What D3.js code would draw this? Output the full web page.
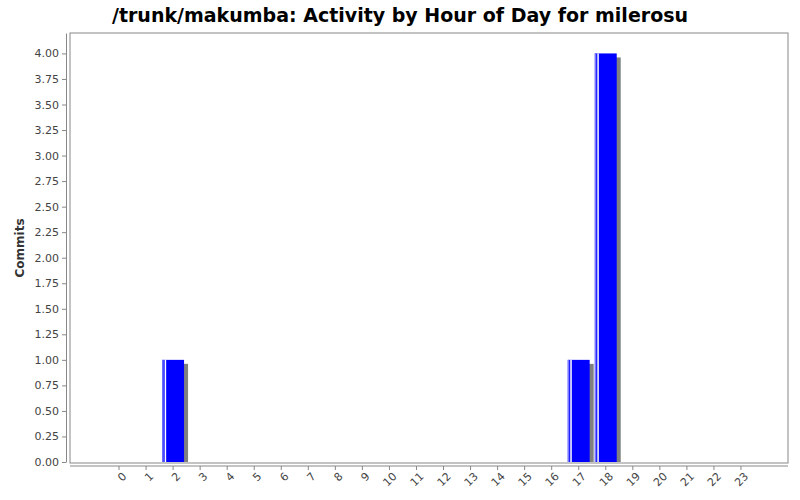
<!DOCTYPE html><html><head><meta charset="utf-8"><script src="https://d3js.org/d3.v7.min.js"></script>
<style>body{margin:0;background:#fff}text{font-family:"DejaVu Sans",sans-serif}</style></head><body>
<svg id="c" width="800" height="500"></svg>
<script>
const hours=["0","1","2","3","4","5","6","7","8","9","10","11","12","13","14","15","16","17","18","19","20","21","22","23"];
const commits=[0,0,1,0,0,0,0,0,0,0,0,0,0,0,0,0,0,1,4,0,0,0,0,0];
const yTicks=[0,0.25,0.5,0.75,1,1.25,1.5,1.75,2,2.25,2.5,2.75,3,3.25,3.5,3.75,4];
const svg=d3.select("#c");
const L=70,R=788,T=33,B=463;
const x=d3.scaleBand().domain(hours).range([105.5,754.5]).paddingInner(0.19).paddingOuter(0.095);
const y=d3.scaleLinear().domain([0,4.2]).range([462,T]);
svg.append("text").attr("x",400).attr("y",22).attr("text-anchor","middle").attr("font-size",19).attr("font-weight","bold").text("/trunk/makumba: Activity by Hour of Day for milerosu");
svg.append("rect").attr("x",L).attr("y",T).attr("width",R-L).attr("height",B-T).attr("fill","#fff").attr("stroke","#888");
const ya=svg.append("g").attr("transform",`translate(${L-4},0)`).call(d3.axisLeft(y).tickValues(yTicks).tickFormat(d3.format(".2f")).tickSize(4).tickSizeOuter(0));
ya.select(".domain").attr("stroke","#888");ya.selectAll("line").attr("stroke","#888");
ya.selectAll("text").attr("font-size",11).attr("fill","#444").attr("font-family","DejaVu Sans");
svg.select("rect").lower();
const xa=svg.append("g").attr("transform",`translate(0,${B+3})`).call(d3.axisBottom(x).tickSize(4).tickSizeOuter(0));
xa.select(".domain").attr("d",`M${L},0H${R}`).attr("stroke","#888");xa.selectAll("line").attr("stroke","#888");
xa.selectAll("text").attr("font-size",11).attr("fill","#444").attr("font-family","DejaVu Sans").attr("text-anchor","end").attr("dx","-0.2em").attr("dy","0.6em").attr("transform","rotate(-45)");
svg.append("text").attr("transform",`translate(24,${(T+B)/2}) rotate(-90)`).attr("text-anchor","middle").attr("font-size",12).attr("font-weight","bold").attr("fill","#333").text("Commits");
const data=hours.map((h,i)=>({h,v:commits[i]})).filter(d=>d.v>0);
const g=svg.append("g");
data.forEach(d=>{
  const bx=x(d.h),bw=x.bandwidth(),by=y(d.v),bh=y(0)-y(d.v);
  g.append("rect").attr("x",bx+4).attr("y",by+4).attr("width",bw).attr("height",bh-4).attr("fill","#808080");
  g.append("rect").attr("x",bx).attr("y",by).attr("width",bw).attr("height",bh).attr("fill","#0000ff");
  g.append("rect").attr("x",bx).attr("y",by).attr("width",1.5).attr("height",bh).attr("fill","#7777ff");
  g.append("rect").attr("x",bx+2.5).attr("y",by).attr("width",1.5).attr("height",bh).attr("fill","#ffffff");
});
</script></body></html>
